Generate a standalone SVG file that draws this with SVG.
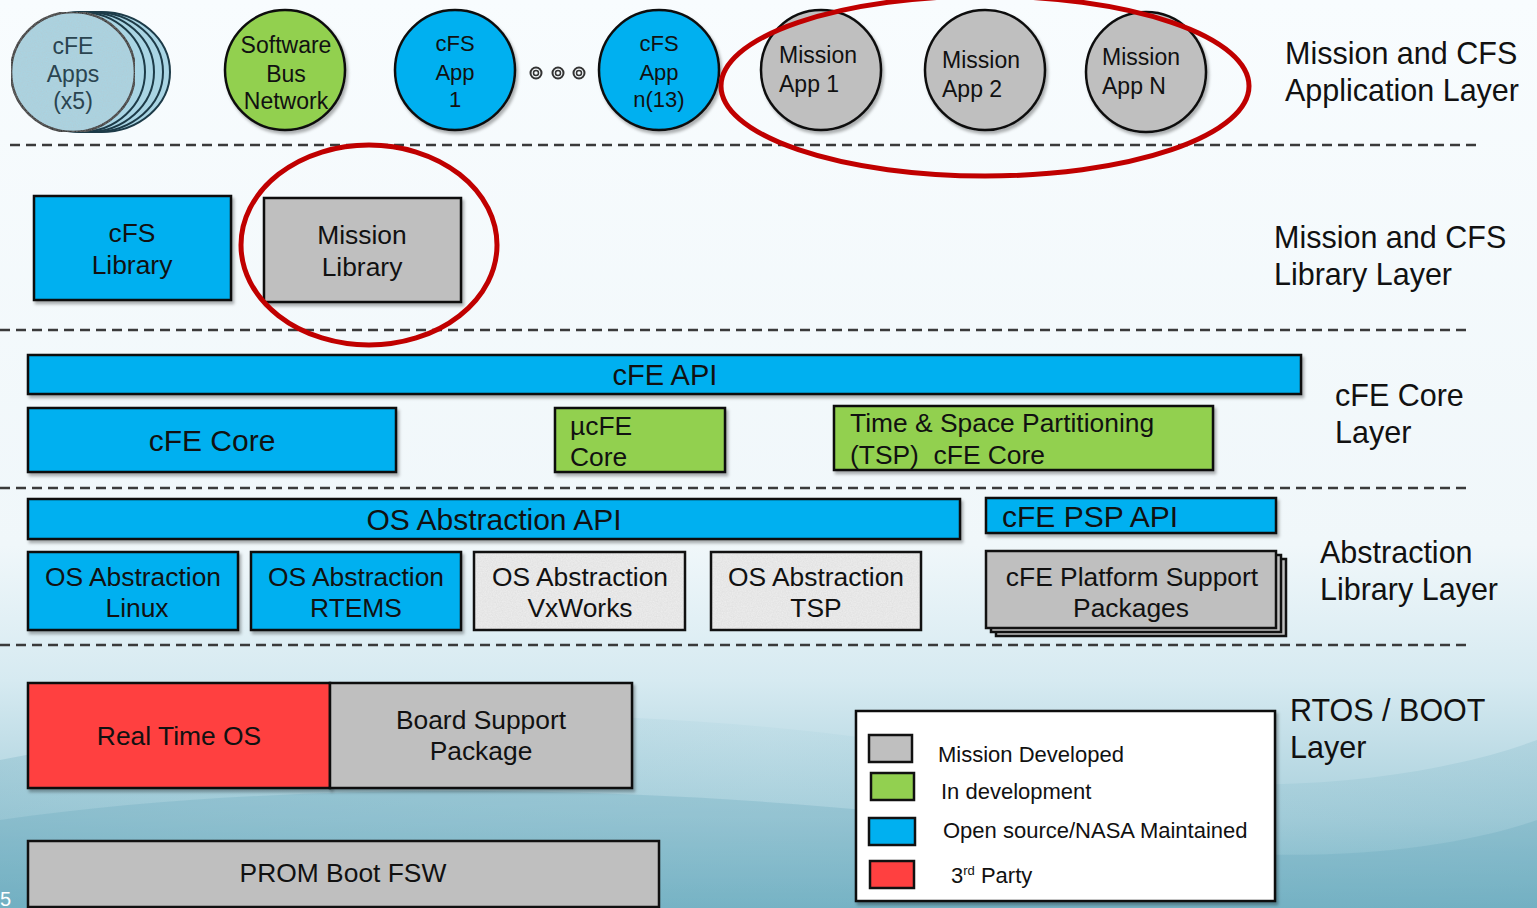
<svg xmlns="http://www.w3.org/2000/svg" width="1537" height="908" viewBox="0 0 1537 908">
<defs>
<linearGradient id="bg" x1="0" y1="0" x2="0" y2="1">
<stop offset="0" stop-color="#f8fcfe"/>
<stop offset="0.6" stop-color="#f0f7fa"/>
<stop offset="0.75" stop-color="#d6eaf1"/>
<stop offset="0.9" stop-color="#a9d0dc"/>
<stop offset="1" stop-color="#7ab6c7"/>
</linearGradient>
<linearGradient id="wave" x1="0" y1="0" x2="1" y2="0">
<stop offset="0" stop-color="#6aaabd" stop-opacity="0.55"/>
<stop offset="0.5" stop-color="#8cc2d1" stop-opacity="0.2"/>
<stop offset="1" stop-color="#6aaabd" stop-opacity="0.4"/>
</linearGradient>
<filter id="sh" x="-5%" y="-5%" width="115%" height="130%">
<feDropShadow dx="2" dy="3" stdDeviation="1.5" flood-color="#000" flood-opacity="0.3"/>
</filter>
<filter id="noise" x="0" y="0" width="100%" height="100%">
<feTurbulence type="fractalNoise" baseFrequency="0.8" numOctaves="2" seed="3" result="t"/>
<feColorMatrix in="t" type="matrix" values="0 0 0 0 0.5  0 0 0 0 0.5  0 0 0 0 0.5  0 0 0 0.35 0" result="n"/>
<feComposite in="n" in2="SourceGraphic" operator="in" result="nn"/>
<feMerge><feMergeNode in="SourceGraphic"/><feMergeNode in="nn"/></feMerge>
</filter>
</defs>
<style>
text{font-family:"Liberation Sans",Arial,sans-serif;fill:#111}
.box{stroke:#111;stroke-width:2.5}
.blue{fill:#00b0f0}
.green{fill:#92d050}
.gray{fill:#bfbfbf}
.red{fill:#ff4040}
.tex{fill:#efefef}
.circ{stroke:#111;stroke-width:2.5}
.dash{stroke:#3a3a3a;stroke-width:2.5;stroke-dasharray:10 6;fill:none}
.lbl{font-size:30.5px}
.t22{font-size:22px}
.t23{font-size:23px}
.t26{font-size:26.4px}
.t30{font-size:30px}
.mid{text-anchor:middle}
.hl{fill:none;stroke:#c00000;stroke-width:5}
</style>
<rect x="0" y="0" width="1537" height="908" fill="url(#bg)"/>
<path d="M0 760 C300 700 700 700 1000 760 C1200 800 1400 790 1537 740 L1537 908 L0 908 Z" fill="url(#wave)" opacity="0.5"/>
<path d="M0 820 C350 770 800 790 1100 840 C1300 870 1450 850 1537 820 L1537 908 L0 908 Z" fill="#6aaabd" opacity="0.3"/>

<g id="layer-separators">
<line class="dash" x1="10" y1="145" x2="1478" y2="145"/>
<line class="dash" x1="0" y1="330" x2="1468" y2="330"/>
<line class="dash" x1="0" y1="488" x2="1468" y2="488"/>
<line class="dash" x1="0" y1="645" x2="1468" y2="645"/>
</g>

<g id="cfe-apps">
<ellipse cx="101" cy="72" rx="69" ry="60" fill="#a9d5e4" stroke="#1d3b48" stroke-width="2"/>
<ellipse cx="94" cy="72" rx="69" ry="60" fill="#a9d5e4" stroke="#1d3b48" stroke-width="2"/>
<ellipse cx="87" cy="72" rx="67" ry="60" fill="#a9d5e4" stroke="#1d3b48" stroke-width="2"/>
<ellipse cx="80" cy="72" rx="65" ry="60" fill="#a9d5e4" stroke="#1d3b48" stroke-width="2"/>
<ellipse cx="73" cy="72" rx="62" ry="60" fill="#a9d5e4" stroke="#111" stroke-width="2.5" filter="url(#noise)"/>
<text class="t23 mid" x="73" y="54" style="fill:#2a4450">cFE</text>
<text class="t23 mid" x="73" y="82" style="fill:#2a4450">Apps</text>
<text class="t23 mid" x="73" y="109" style="fill:#2a4450">(x5)</text>
</g>

<g id="software-bus">
<circle class="circ green" cx="285" cy="70" r="60" filter="url(#sh)"/>
<text class="t23 mid" x="286" y="53">Software</text>
<text class="t23 mid" x="286" y="82">Bus</text>
<text class="t23 mid" x="286" y="109">Network</text>
</g>

<g id="cfs-app-1">
<circle class="circ blue" cx="455" cy="70" r="60" filter="url(#sh)"/>
<text class="t22 mid" x="455" y="51">cFS</text>
<text class="t22 mid" x="455" y="80">App</text>
<text class="t22 mid" x="455" y="107">1</text>
</g>

<g id="ellipsis-dots" fill="none" stroke="#333">
<circle cx="536" cy="73" r="5.5" stroke-width="2"/><circle cx="536" cy="73" r="2.5" stroke-width="1.5"/>
<circle cx="558" cy="73" r="5.5" stroke-width="2"/><circle cx="558" cy="73" r="2.5" stroke-width="1.5"/>
<circle cx="579" cy="73" r="5.5" stroke-width="2"/><circle cx="579" cy="73" r="2.5" stroke-width="1.5"/>
</g>

<g id="cfs-app-n">
<circle class="circ blue" cx="659" cy="70" r="60" filter="url(#sh)"/>
<text class="t22 mid" x="659" y="51">cFS</text>
<text class="t22 mid" x="659" y="80">App</text>
<text class="t22 mid" x="659" y="107">n(13)</text>
</g>

<g id="mission-app-1">
<circle class="circ gray" cx="821" cy="70" r="60" filter="url(#sh)"/>
<text class="t23" x="779" y="63">Mission</text>
<text class="t23" x="779" y="92">App 1</text>
</g>
<g id="mission-app-2">
<circle class="circ gray" cx="985" cy="70" r="60" filter="url(#sh)"/>
<text class="t23" x="942" y="68">Mission</text>
<text class="t23" x="942" y="97">App 2</text>
</g>
<g id="mission-app-n">
<circle class="circ gray" cx="1146" cy="72" r="60" filter="url(#sh)"/>
<text class="t23" x="1102" y="65">Mission</text>
<text class="t23" x="1102" y="94">App N</text>
</g>

<g id="layer-labels">
<text class="lbl" x="1285" y="64">Mission and CFS</text>
<text class="lbl" x="1285" y="101">Application Layer</text>
<text class="lbl" x="1274" y="248">Mission and CFS</text>
<text class="lbl" x="1274" y="285">Library Layer</text>
<text class="lbl" x="1335" y="406">cFE Core</text>
<text class="lbl" x="1335" y="443">Layer</text>
<text class="lbl" x="1320" y="563">Abstraction</text>
<text class="lbl" x="1320" y="600">Library Layer</text>
<text class="lbl" x="1290" y="721">RTOS / BOOT</text>
<text class="lbl" x="1290" y="758">Layer</text>
</g>

<g id="cfs-library">
<rect class="box blue" x="34" y="196" width="197" height="104" filter="url(#sh)"/>
<text class="t26 mid" x="132" y="242">cFS</text>
<text class="t26 mid" x="132" y="274">Library</text>
</g>
<g id="mission-library">
<rect class="box gray" x="264" y="198" width="197" height="104" filter="url(#sh)"/>
<text class="t26 mid" x="362" y="244">Mission</text>
<text class="t26 mid" x="362" y="276">Library</text>
</g>

<g id="cfe-api">
<rect class="box blue" x="28" y="355" width="1273" height="39" filter="url(#sh)"/>
<text class="mid" font-size="29" x="665" y="385">cFE API</text>
</g>
<g id="cfe-core">
<rect class="box blue" x="28" y="408" width="368" height="64" filter="url(#sh)"/>
<text class="mid" font-size="30" x="212" y="451">cFE Core</text>
</g>
<g id="micro-cfe-core">
<rect class="box green" x="555" y="408" width="170" height="64" filter="url(#sh)"/>
<text class="t26" x="570" y="435">µcFE</text>
<text class="t26" x="570" y="466">Core</text>
</g>
<g id="tsp-cfe-core">
<rect class="box green" x="834" y="406" width="379" height="64" filter="url(#sh)"/>
<text class="t26" x="850" y="432">Time &amp; Space Partitioning</text>
<text class="t26" x="850" y="464" xml:space="preserve">(TSP)  cFE Core</text>
</g>

<g id="os-abstraction-api">
<rect class="box blue" x="28" y="499" width="932" height="40" filter="url(#sh)"/>
<text class="t30 mid" x="494" y="530">OS Abstraction API</text>
</g>
<g id="cfe-psp-api">
<rect class="box blue" x="986" y="498" width="290" height="35" filter="url(#sh)"/>
<text class="t30" x="1002" y="527">cFE PSP API</text>
</g>
<g id="osal-linux">
<rect class="box blue" x="28" y="552" width="210" height="78" filter="url(#sh)"/>
<text class="t26 mid" x="133" y="586">OS Abstraction</text>
<text class="t26 mid" x="137" y="617">Linux</text>
</g>
<g id="osal-rtems">
<rect class="box blue" x="251" y="552" width="210" height="78" filter="url(#sh)"/>
<text class="t26 mid" x="356" y="586">OS Abstraction</text>
<text class="t26 mid" x="356" y="617">RTEMS</text>
</g>
<g id="osal-vxworks">
<rect class="tex" x="474" y="552" width="211" height="78" filter="url(#noise)"/>
<rect class="box" fill="none" x="474" y="552" width="211" height="78"/>
<text class="t26 mid" x="580" y="586">OS Abstraction</text>
<text class="t26 mid" x="580" y="617">VxWorks</text>
</g>
<g id="osal-tsp">
<rect class="tex" x="711" y="552" width="210" height="78" filter="url(#noise)"/>
<rect class="box" fill="none" x="711" y="552" width="210" height="78"/>
<text class="t26 mid" x="816" y="586">OS Abstraction</text>
<text class="t26 mid" x="816" y="617">TSP</text>
</g>
<g id="cfe-psp">
<rect class="box gray" x="996" y="559" width="290" height="77"/>
<rect class="box gray" x="991" y="555" width="290" height="77"/>
<rect class="box gray" x="986" y="551" width="290" height="77"/>
<text class="t26 mid" x="1132" y="586">cFE Platform Support</text>
<text class="t26 mid" x="1131" y="617">Packages</text>
</g>

<g id="real-time-os">
<rect class="box red" x="28" y="683" width="302" height="105" filter="url(#sh)"/>
<text class="t26 mid" x="179" y="745">Real Time OS</text>
</g>
<g id="board-support-package">
<rect class="box gray" x="330" y="683" width="302" height="105" filter="url(#sh)"/>
<text class="t26 mid" x="481" y="729">Board Support</text>
<text class="t26 mid" x="481" y="760">Package</text>
</g>
<g id="prom-boot-fsw">
<rect class="box gray" x="28" y="841" width="631" height="66"/>
<text class="t26 mid" x="343" y="882">PROM Boot FSW</text>
</g>

<g id="legend">
<rect x="856" y="711" width="419" height="190" fill="#fff" stroke="#111" stroke-width="2.5" filter="url(#sh)"/>
<rect class="box gray" x="869" y="735" width="43" height="27"/>
<rect class="box green" x="871" y="773" width="43" height="27"/>
<rect class="box blue" x="869" y="818" width="46" height="27"/>
<rect class="box red" x="870" y="861" width="44" height="27"/>
<text class="t22" x="938" y="762">Mission Developed</text>
<text class="t22" x="941" y="799">In development</text>
<text class="t22" x="943" y="838">Open source/NASA Maintained</text>
<text class="t22" x="951" y="883">3<tspan font-size="13" dy="-8">rd</tspan><tspan dy="8"> Party</tspan></text>
</g>

<g id="highlights">
<ellipse class="hl" cx="985" cy="86" rx="264" ry="90"/>
<ellipse class="hl" cx="369" cy="245" rx="128" ry="100"/>
</g>

<text x="0" y="906" font-size="20" style="fill:#fff">5</text>
</svg>
